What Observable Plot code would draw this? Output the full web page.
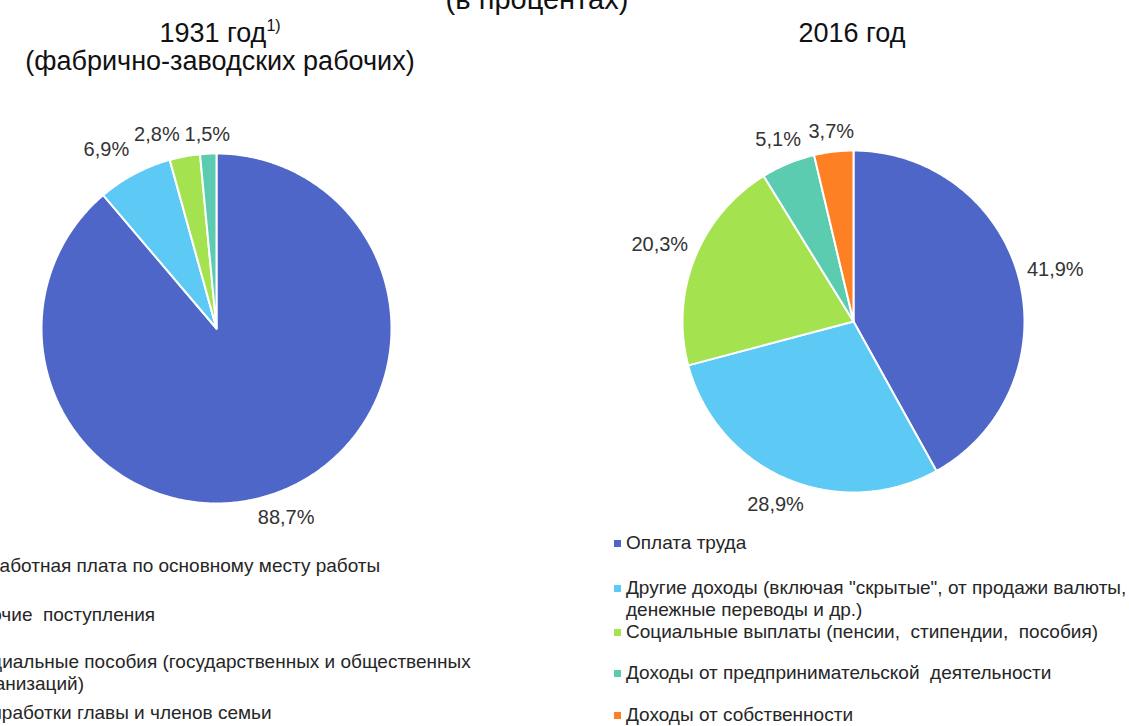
<!DOCTYPE html>
<html><head><meta charset="utf-8">
<script src="https://cdn.jsdelivr.net/npm/d3@7"></script>
<script src="https://cdn.jsdelivr.net/npm/@observablehq/plot@0.6"></script>
<style>
body{margin:0;background:#fff;}
#wrap{position:relative;width:1129px;height:726px;overflow:hidden;font-family:"Liberation Sans",Arial,sans-serif;color:#111;background:#fff;}
.t{position:absolute;white-space:nowrap;}
.title{font-size:27px;line-height:28px;text-align:center;}
.leg{font-size:19px;line-height:22px;color:#262626;}
.mk{position:absolute;width:7px;height:7px;}
.plot{position:absolute;}
</style></head><body><div id="wrap"></div>
<script>
// ---- data ----
const categories1931 = [
  "Заработная плата по основному месту работы",
  "Прочие поступления",
  "Социальные пособия (государственных и общественных организаций)",
  "Приработки главы и членов семьи"
];
const values1931 = [88.7, 6.9, 2.8, 1.5];
const legend1931 = [
  "Заработная плата по основному месту работы",
  "Прочие  поступления",
  "Социальные пособия (государственных и общественных\nорганизаций)",
  "Приработки главы и членов семьи"
];
const categories2016 = [
  "Оплата труда",
  "Другие доходы",
  "Социальные выплаты",
  "Доходы от предпринимательской деятельности",
  "Доходы от собственности"
];
const values2016 = [41.9, 28.9, 20.3, 5.1, 3.7];
const legend2016 = [
  "Оплата труда",
  "Другие доходы (включая \"скрытые\", от продажи валюты,\nденежные переводы и др.)",
  "Социальные выплаты (пенсии,  стипендии,  пособия)",
  "Доходы от предпринимательской  деятельности",
  "Доходы от собственности"
];
const colors1931 = ["#4f66c9", "#5ccaf4", "#a4e34f", "#5bccb0"];
const colors2016 = ["#4f66c9", "#5ccaf4", "#a4e34f", "#5bccb0", "#fd8024"];

// ---- layout ----
const wrap = document.getElementById("wrap");
function addDiv(cls, html, style) {
  const d = document.createElement("div");
  d.className = cls; d.innerHTML = html;
  Object.assign(d.style, style);
  wrap.appendChild(d);
  return d;
}
addDiv("t title", "(в процентах)", {left: "337px", width: "400px", top: "-15px", fontSize: "29px"});
addDiv("t title", "1931 год<span style=\"position:relative;top:-11px;font-size:16px;line-height:0\">1)</span><br>(фабрично-заводских рабочих)", {left: "0px", width: "440px", top: "19px"});
addDiv("t title", "2016 год", {left: "652px", width: "400px", top: "19px"});

const fmt = v => d3.format(".1f")(v).replace(".", ",") + "%";
const FS = 20;

function pieChart(values, cats, colors, r, W, H) {
  const arcs = d3.pie().sort(null).value(d => d)(values);
  const pts = [];
  arcs.forEach((a, i) => {
    const n = Math.max(2, Math.ceil((a.endAngle - a.startAngle) / 0.01));
    pts.push({cat: cats[i], x: 0, y: 0});
    for (let k = 0; k <= n; k++) {
      const t = a.startAngle + (a.endAngle - a.startAngle) * k / n;
      pts.push({cat: cats[i], x: Math.sin(t), y: Math.cos(t)});
    }
    pts.push({cat: cats[i], x: 0, y: 0});
  });
  // label placement outside each slice (pixel offsets from centre), then resolve overlaps
  const labels = arcs.map(a => {
    const m = (a.startAngle + a.endAngle) / 2;
    const text = fmt(a.data);
    const w = text.length * 0.556 * FS;
    const R = r + 8 + Math.abs(Math.sin(m)) * w / 2 + Math.abs(Math.cos(m)) * FS / 2;
    return {text, w, px: Math.sin(m) * R, py: Math.cos(m) * R};
  });
  // walk counter-clockwise from 12 o'clock, pushing left-side labels leftwards
  for (let i = labels.length - 2; i >= 0; i--) {
    const a = labels[i], b = labels[i + 1];
    if (a.px < 0 && Math.abs(a.py - b.py) < FS) {
      const maxX = b.px - b.w / 2 - 6 - a.w / 2;
      if (a.px > maxX) a.px = maxX;
    }
  }
  return Plot.plot({
    width: W, height: H, margin: 0,
    x: {domain: [-W / 2 / r, W / 2 / r], axis: null},
    y: {domain: [-H / 2 / r, H / 2 / r], axis: null},
    color: {domain: cats, range: colors},
    style: {background: "none", overflow: "visible", fontFamily: "Liberation Sans, Arial, sans-serif"},
    marks: [
      Plot.line(pts, {x: "x", y: "y", z: "cat", fill: "cat", stroke: "white", strokeWidth: 2, strokeLinejoin: "round"}),
      Plot.text(labels, {
        x: d => d.px / r,
        y: d => d.py / r,
        text: "text", fontSize: FS, fill: "#333"
      })
    ]
  });
}

const p1 = pieChart(values1931, categories1931, colors1931, 175, 520, 480);
p1.classList.add("plot"); p1.style.left = (216 - 260) + "px"; p1.style.top = (328 - 240) + "px";
wrap.appendChild(p1);
const p2 = pieChart(values2016, categories2016, colors2016, 171, 520, 480);
p2.classList.add("plot"); p2.style.left = (853 - 260) + "px"; p2.style.top = (321 - 240) + "px";
wrap.appendChild(p2);

// legends
function legend(labels, colors, left, tops) {
  labels.forEach((lab, i) => {
    addDiv("t leg", lab.replace(/\n/g, "<br>").replace(/  /g, " &nbsp;"), {left: left + "px", top: (tops[i] - 11) + "px"});
    const m = document.createElement("div");
    m.className = "mk";
    Object.assign(m.style, {left: (left - 12) + "px", top: (tops[i] - 3) + "px", background: colors[i]});
    wrap.appendChild(m);
  });
}
legend(legend1931, colors1931, -33, [566, 615, 662, 713]);
legend(legend2016, colors2016, 626, [543, 588, 632, 673, 715]);
</script></body></html>
